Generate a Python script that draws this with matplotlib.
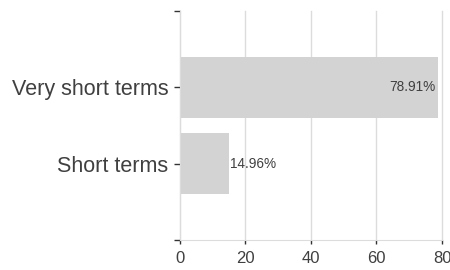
import numpy as np
import matplotlib
matplotlib.use("Agg")
import matplotlib.pyplot as plt

plt.rcParams['font.family'] = ['Liberation Sans', 'DejaVu Sans']

categories = ["Short terms", "Very short terms"]
values = [14.96, 78.91]
xticks = [0, 20, 40, 60, 80]

txt = "#404040"
grid_c = "#dcdcdc"

fig = plt.figure(figsize=(4.5, 2.7), dpi=100)
ax = fig.add_axes([179.5/450, 1 - 240/270, (442 - 179.5)/450, (240 - 11)/270])

ypos = np.arange(1, len(categories) + 1)
ax.barh(ypos, values, height=0.8, color="#d3d3d3", zorder=2)

for y, v in zip(ypos, values):
    lab = "{0:.2f}%".format(v)
    if v > 40:
        ax.text(v - 1.0, y, lab, ha="right", va="center", fontsize=9.8, color=txt, zorder=3)
    else:
        ax.text(v + 0.5, y, lab, ha="left", va="center", fontsize=9.8, color=txt, zorder=3)

ax.set_xlim(0, 80)
ax.set_ylim(0, 3)
ax.set_xticks(xticks)
ax.set_xticklabels([str(t) for t in xticks], fontsize=12, color=txt)
ax.set_yticks([0, 1, 2, 3])
ax.set_yticklabels([""] + categories + [""], fontsize=15.5, color=txt)

ax.xaxis.grid(True, color=grid_c, linewidth=1.0, zorder=0)
ax.set_axisbelow(True)
for gl in ax.get_xgridlines():
    gl.set_clip_on(False)
for s in ["top", "right"]:
    ax.spines[s].set_visible(False)
ax.spines["left"].set_color(grid_c)
ax.spines["bottom"].set_color(grid_c)
ax.tick_params(axis="y", length=4, width=1, color="#333333", pad=4)
ax.tick_params(axis="x", length=3, width=1, color="#333333", pad=5)

fig.savefig("out.png", dpi=100)
